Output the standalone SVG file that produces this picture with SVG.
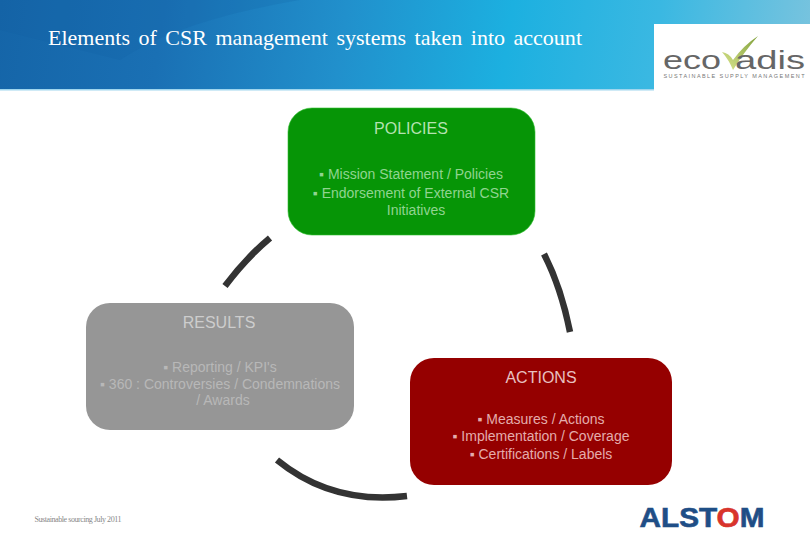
<svg xmlns="http://www.w3.org/2000/svg" width="810" height="540" viewBox="0 0 810 540">
<defs>
<linearGradient id="hdr" x1="0" y1="0" x2="810" y2="120" gradientUnits="userSpaceOnUse">
<stop offset="0" stop-color="#1565a8"/><stop offset="0.2" stop-color="#1a70b4"/><stop offset="0.42" stop-color="#2190cc"/><stop offset="0.62" stop-color="#1cb0e0"/><stop offset="0.8" stop-color="#3ab8e2"/><stop offset="1" stop-color="#7cc4de"/>
</linearGradient>
<linearGradient id="check" x1="0" y1="1" x2="1" y2="0"><stop offset="0" stop-color="#dde690"/><stop offset="1" stop-color="#7fa03a"/></linearGradient>
</defs>
<style>
text{font-family:"Liberation Sans",Arial,sans-serif;text-anchor:middle}
.h{font-size:16px}.b{font-size:14px}
.g .h{fill:#b4e2b0}.g .b{fill:#90d490}
.r .h{fill:#e8c0c0}.r .b{fill:#e4acac}
.s .h{fill:#cdcdcd}.s .b{fill:#b8b8b8}
.arc{fill:none;stroke:#333;stroke-width:6.5}
.eco{fill:#666;font-size:25px}
</style>
<rect width="810" height="89" fill="url(#hdr)"/>
<path d="M0 0H300Q180 20 120 60L0 30Z" fill="#0f5c9e" opacity=".18"/>
<rect y="89" width="654" height="1.5" fill="#9fd6ee"/>
<text x="315" y="45" fill="#fff" style="font-family:'Liberation Serif',serif;font-size:22px;word-spacing:3px" textLength="534" lengthAdjust="spacing">Elements of CSR management systems taken into account</text>
<g id="logo-ecovadis">
<rect x="654" y="24" width="156" height="66" fill="#fff"/>
<path d="M722 52Q729 53 733 60Q744 45 758 36Q744 52 733 70Q729 60 722 52Z" fill="url(#check)"/>
<text class="eco" x="692" y="69" textLength="58" lengthAdjust="spacingAndGlyphs">eco</text>
<text class="eco" x="770" y="69" textLength="70" lengthAdjust="spacingAndGlyphs">adis</text>
<text x="734" y="77.5" fill="#777" style="font-size:5.5px" textLength="141" lengthAdjust="spacing">SUSTAINABLE SUPPLY MANAGEMENT</text>
</g>
<g id="connectors">
<path class="arc" d="M270 238Q246 258 225 286"/>
<path class="arc" d="M544 254Q561 287 570 332"/>
<path class="arc" d="M277 460Q332 505 407 496"/>
</g>
<g id="policies" class="g">
<rect x="288" y="108" width="247" height="127" rx="24" fill="#069506" stroke="#2fc02f" stroke-width=".6"/>
<text class="h" x="411" y="134">POLICIES</text>
<text class="b" x="411" y="179">▪ Mission Statement / Policies</text>
<text class="b" x="411" y="198">▪ Endorsement of External CSR</text>
<text class="b" x="416" y="215">Initiatives</text>
</g>
<g id="results" class="s">
<rect x="86" y="303" width="268" height="127" rx="24" fill="#969696"/>
<text class="h" x="219" y="328">RESULTS</text>
<text class="b" x="220" y="372">▪ Reporting / KPI's</text>
<text class="b" x="220" y="389">▪ 360 : Controversies / Condemnations</text>
<text class="b" x="223" y="405">/ Awards</text>
</g>
<g id="actions" class="r">
<rect x="410" y="358" width="262" height="127" rx="24" fill="#950000"/>
<text class="h" x="541" y="383">ACTIONS</text>
<text class="b" x="541" y="424">▪ Measures / Actions</text>
<text class="b" x="541" y="441">▪ Implementation / Coverage</text>
<text class="b" x="541" y="459">▪ Certifications / Labels</text>
</g>
<text x="78" y="522" fill="#888" style="font-family:'Liberation Serif',serif;font-size:8px" textLength="87" lengthAdjust="spacing">Sustainable sourcing July 2011</text>
<g id="logo-alstom">
<text x="702" y="527" fill="#1f4e86" stroke="#1f4e86" stroke-width=".6" style="font-size:27px;font-weight:bold" textLength="125" lengthAdjust="spacingAndGlyphs">ALST<tspan fill="#d8342c" stroke="#d8342c">O</tspan>M</text>
</g>
</svg>
